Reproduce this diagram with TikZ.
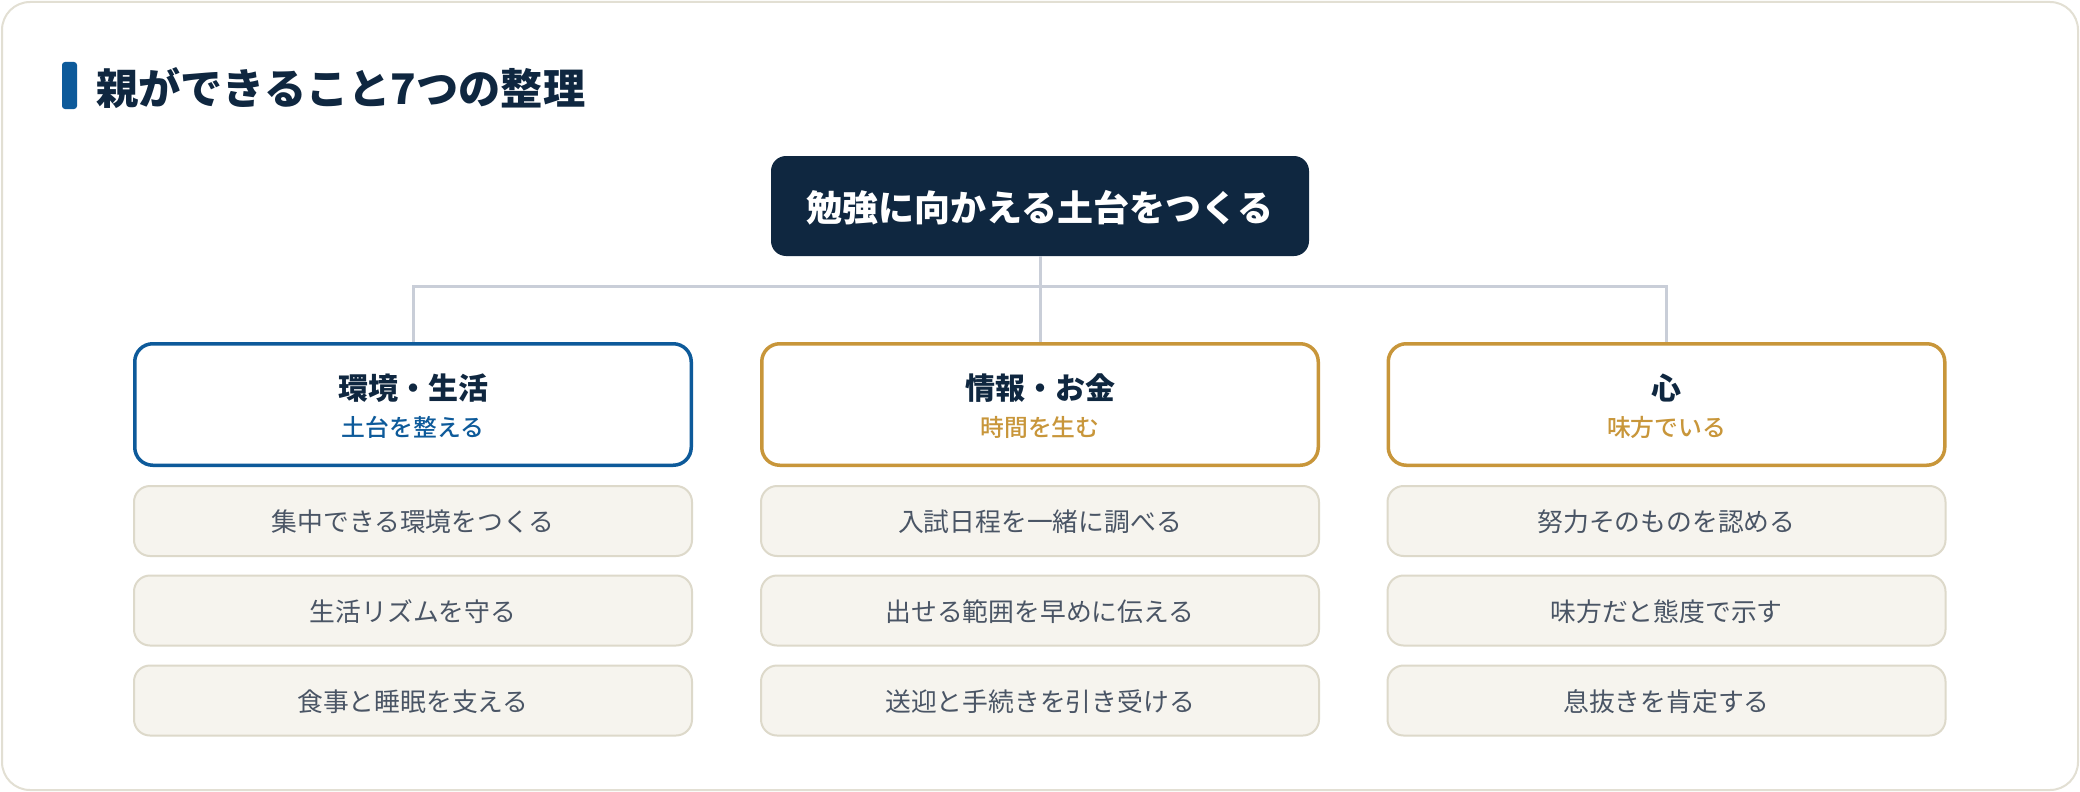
\documentclass[tikz,border=0pt]{standalone}
\usepackage{fontspec}
\setmainfont{Noto Sans CJK JP}
\IfFontExistsTF{Noto Sans CJK JP Medium}{\newfontfamily\medfont{Noto Sans CJK JP Medium}}{\newfontfamily\medfont{Noto Sans CJK JP}[FakeBold=0.6]}
\definecolor{navy}{HTML}{0F2740}
\definecolor{myblue}{HTML}{0D5A9A}
\definecolor{mygold}{HTML}{C8963A}
\definecolor{leaftext}{HTML}{4A5565}
\definecolor{leaffill}{HTML}{F6F4EE}
\definecolor{leafline}{HTML}{DDD9CA}
\definecolor{frameline}{HTML}{E2DFD3}
\definecolor{connline}{HTML}{C9CED8}
\begin{document}
\begin{tikzpicture}[x=1pt,y=-1pt,
  framebox/.style={draw=frameline, line width=2pt, fill=white, rounded corners=28pt},
  titlebar/.style={fill=myblue, rounded corners=3pt, minimum width=15pt, minimum height=47pt, inner sep=0pt},
  titletext/.style={font=\bfseries\fontsize{42.2}{50}\selectfont, text=navy, inner sep=0pt, text height=37.1pt, text depth=5.1pt},
  topbox/.style={fill=navy, rounded corners=15pt, minimum width=538pt, minimum height=100pt, inner sep=0pt,
    font=\bfseries\fontsize{36}{42}\selectfont, text=white, text height=35.6pt, text depth=4.3pt},
  catbox/.style={draw=#1, line width=3.5pt, fill=white, rounded corners=18pt, minimum width=556.5pt, minimum height=121.5pt, inner sep=0pt},
  cattitle/.style={font=\bfseries\fontsize{30}{34}\selectfont, text=navy, inner sep=0pt, text height=26.4pt, text depth=3.6pt},
  catsub/.style={font=\medfont\fontsize{23.8}{28}\selectfont, text=#1, inner sep=0pt, text height=20.9pt, text depth=2.9pt},
  leafbox/.style={draw=leafline, line width=2pt, fill=leaffill, rounded corners=16pt, minimum width=558pt, minimum height=70pt, inner sep=0pt,
    font=\fontsize{25.8}{30}\selectfont, text=leaftext, text height=24.8pt, text depth=3.1pt},
  conn/.style={draw=connline, line width=3pt}
]
\useasboundingbox (0,0) rectangle (2080,792);
\draw[framebox] (2,2) rectangle (2078,790);

\node[titlebar] (bar) at (69.5,85.5) {};
\node[titletext, anchor=west] (title) at (96,88) {親ができること7つの整理};

\node[topbox] (top) at (1040,206) {勉強に向かえる土台をつくる};

\node[catbox=myblue] (cat1) at (413,404.5) {};
\node[catbox=mygold] (cat2) at (1040,404.5) {};
\node[catbox=mygold] (cat3) at (1666.5,404.5) {};

\coordinate (bus) at (1040,286);
\draw[conn] (top.south) -- (cat2.north);
\draw[conn] (cat1.north) |- (bus) -| (cat3.north);

\node[cattitle] (cat1t) at (413,388.5) {環境・生活};
\node[catsub=myblue] (cat1s) at (413,427) {土台を整える};
\node[cattitle] (cat2t) at (1040,388.5) {情報・お金};
\node[catsub=mygold] (cat2s) at (1040,427) {時間を生む};
\node[cattitle] (cat3t) at (1666.5,388.5) {心};
\node[catsub=mygold] (cat3s) at (1666.5,427) {味方でいる};

\node[leafbox] (l11) at (413,521) {集中できる環境をつくる};
\node[leafbox] (l12) at (413,610.5) {生活リズムを守る};
\node[leafbox] (l13) at (413,700.5) {食事と睡眠を支える};
\node[leafbox] (l21) at (1040,521) {入試日程を一緒に調べる};
\node[leafbox] (l22) at (1040,610.5) {出せる範囲を早めに伝える};
\node[leafbox] (l23) at (1040,700.5) {送迎と手続きを引き受ける};
\node[leafbox] (l31) at (1666.5,521) {努力そのものを認める};
\node[leafbox] (l32) at (1666.5,610.5) {味方だと態度で示す};
\node[leafbox] (l33) at (1666.5,700.5) {息抜きを肯定する};
\end{tikzpicture}
\end{document}
